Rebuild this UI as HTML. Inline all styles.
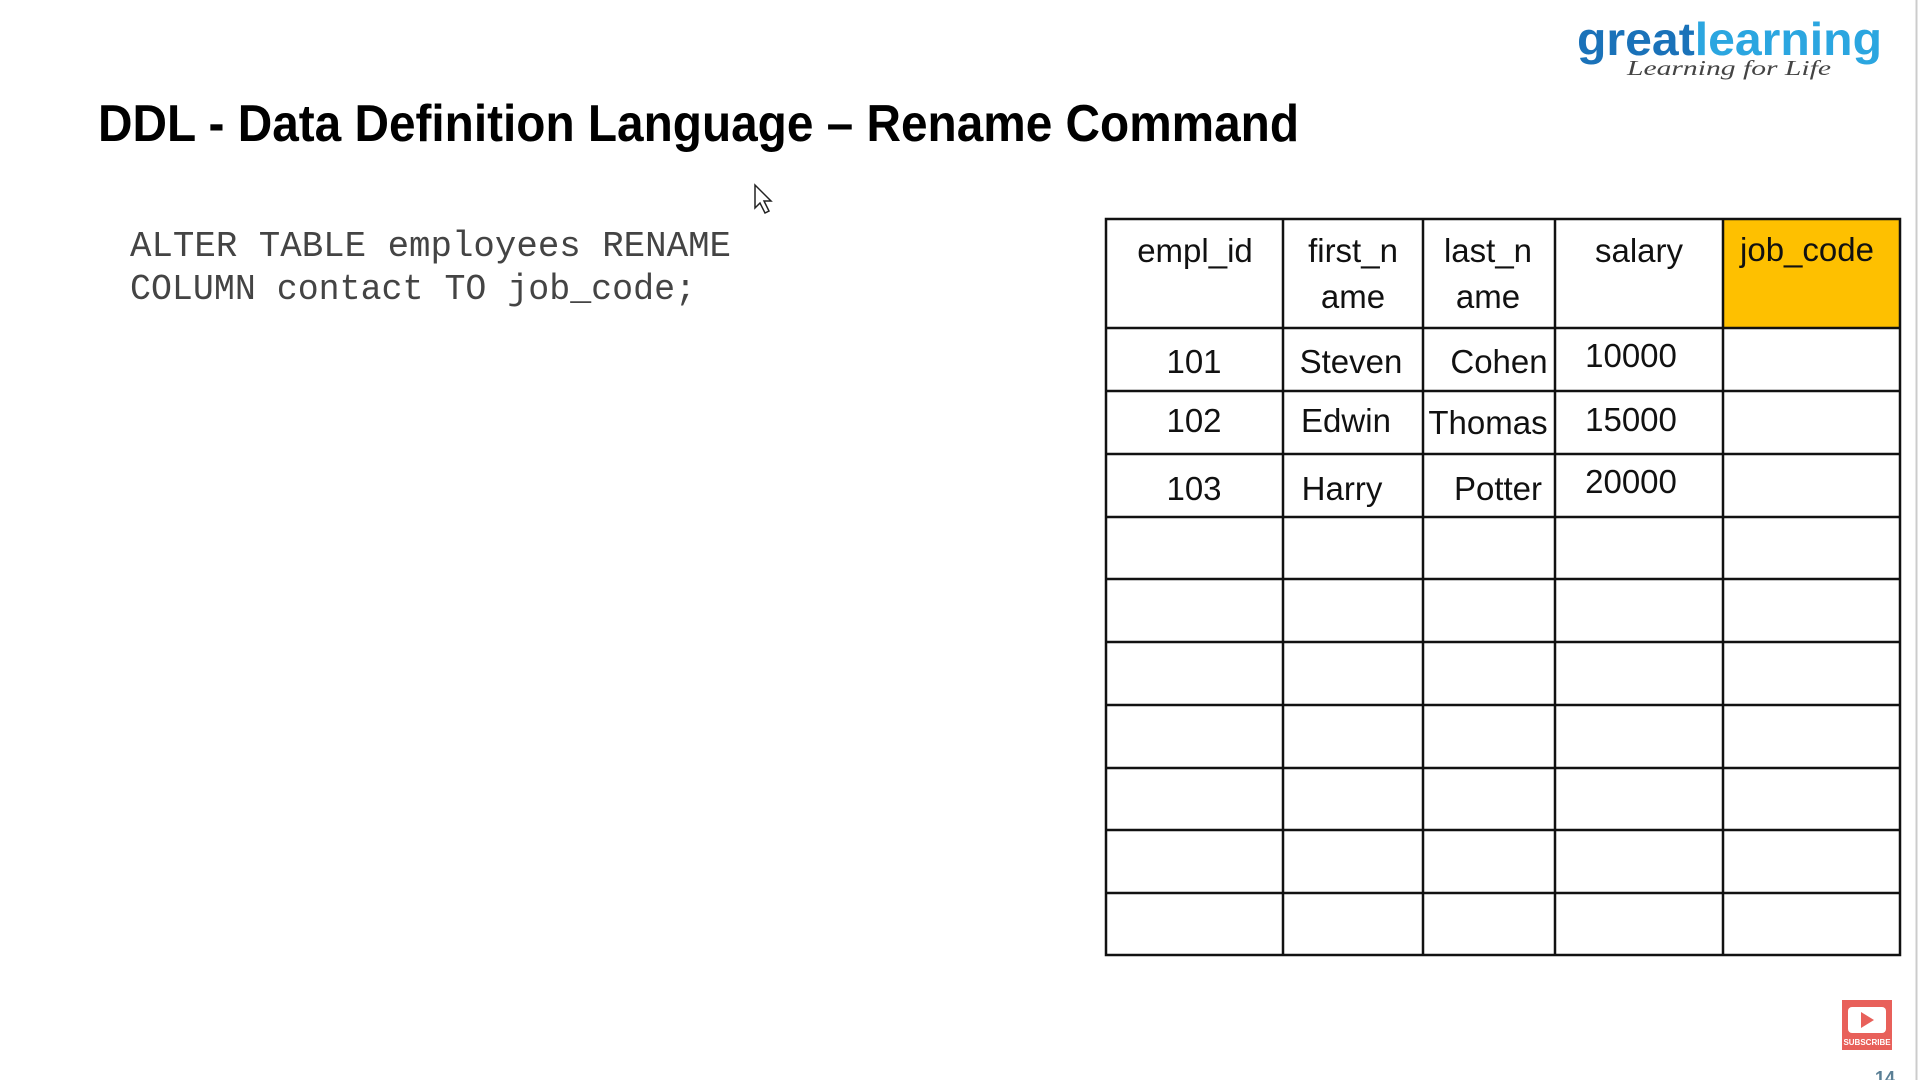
<!DOCTYPE html>
<html><head><meta charset="utf-8"><style>
html,body{margin:0;padding:0;background:#fff;width:1920px;height:1080px;overflow:hidden}
svg{display:block}
</style></head><body>
<svg width="1920" height="1080" viewBox="0 0 1920 1080" xmlns="http://www.w3.org/2000/svg">
<rect width="1920" height="1080" fill="#fff"/>
<line x1="1916.5" y1="0" x2="1916.5" y2="1080" stroke="#ccc" stroke-width="2"/>
<!-- logo -->
<text x="1577" y="55" font-family="Liberation Sans, sans-serif" font-weight="bold" font-size="46" textLength="305" lengthAdjust="spacingAndGlyphs"><tspan fill="#1a72b9">great</tspan><tspan fill="#2ba6e0">learning</tspan></text>
<text x="1627" y="75" font-family="Liberation Serif, serif" font-style="italic" font-size="21" fill="#444" textLength="204" lengthAdjust="spacingAndGlyphs">Learning for Life</text>
<!-- title -->
<text x="98" y="141" font-family="Liberation Sans, sans-serif" font-weight="bold" font-size="52" fill="#000" textLength="1201" lengthAdjust="spacingAndGlyphs">DDL - Data Definition Language – Rename Command</text>
<!-- cursor -->
<path d="M755 185 L755 208 L760 203 L765 213 L769 211 L764 201 L771 201 Z" fill="#fff" stroke="#222" stroke-width="1.5"/>
<!-- code -->
<g font-family="Liberation Mono, monospace" font-size="36" fill="#444">
<text x="130" y="256" textLength="601" lengthAdjust="spacingAndGlyphs">ALTER TABLE employees RENAME</text>
<text x="130" y="299" textLength="566" lengthAdjust="spacingAndGlyphs">COLUMN contact TO job_code;</text>
</g>
<!-- table -->
<rect x="1723" y="218" width="177" height="110" fill="#fec000"/>
<g stroke="#111" stroke-width="2.5" fill="none">
<rect x="1106" y="219" width="794" height="736"/>
<line x1="1283" y1="219" x2="1283" y2="955"/>
<line x1="1423" y1="219" x2="1423" y2="955"/>
<line x1="1555" y1="219" x2="1555" y2="955"/>
<line x1="1723" y1="219" x2="1723" y2="955"/>
<line x1="1106" y1="328" x2="1900" y2="328"/>
<line x1="1106" y1="391" x2="1900" y2="391"/>
<line x1="1106" y1="454" x2="1900" y2="454"/>
<line x1="1106" y1="517" x2="1900" y2="517"/>
<line x1="1106" y1="579" x2="1900" y2="579"/>
<line x1="1106" y1="642" x2="1900" y2="642"/>
<line x1="1106" y1="705" x2="1900" y2="705"/>
<line x1="1106" y1="768" x2="1900" y2="768"/>
<line x1="1106" y1="830" x2="1900" y2="830"/>
<line x1="1106" y1="893" x2="1900" y2="893"/>
</g>
<g font-family="Liberation Sans, sans-serif" font-size="33" fill="#111" text-anchor="middle">
<text x="1195" y="262">empl_id</text>
<text x="1353" y="262">first_n</text>
<text x="1353" y="308">ame</text>
<text x="1488" y="262">last_n</text>
<text x="1488" y="308">ame</text>
<text x="1639" y="262">salary</text>
<text x="1807" y="261">job_code</text>
<text x="1194" y="373">101</text>
<text x="1351" y="373">Steven</text>
<text x="1499" y="373">Cohen</text>
<text x="1631" y="367">10000</text>
<text x="1194" y="432">102</text>
<text x="1346" y="432">Edwin</text>
<text x="1488" y="434">Thomas</text>
<text x="1631" y="431">15000</text>
<text x="1194" y="500">103</text>
<text x="1342" y="500">Harry</text>
<text x="1498" y="500">Potter</text>
<text x="1631" y="493">20000</text>
</g>
<!-- subscribe -->
<rect x="1842" y="1000" width="50" height="50" fill="#e8605a"/>
<rect x="1848" y="1007" width="38" height="26" rx="4" fill="#fff"/>
<path d="M1861 1012 L1861 1028 L1874 1020 Z" fill="#e8605a"/>
<text x="1867" y="1045" font-family="Liberation Sans, sans-serif" font-weight="bold" font-size="8" fill="#fff" text-anchor="middle">SUBSCRIBE</text>
<text x="1875" y="1084" font-family="Liberation Sans, sans-serif" font-weight="bold" font-size="18" fill="#5a7f95">14</text>
</svg>
</body></html>
